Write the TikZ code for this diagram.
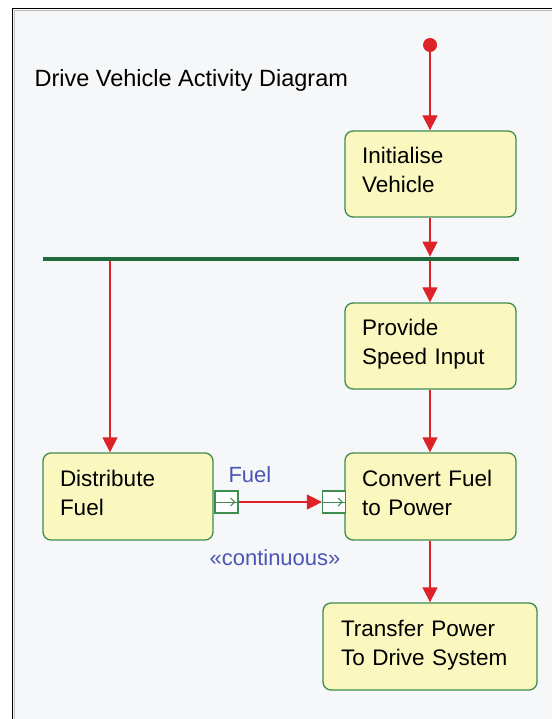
\documentclass[tikz,border=0pt]{standalone}
\usepackage{fontspec}
\setmainfont{Liberation Sans}
\usetikzlibrary{arrows.meta, positioning, shapes}

\definecolor{actfill}{HTML}{FAF8BE}
\definecolor{actline}{HTML}{3F8C50}
\definecolor{flowred}{HTML}{DE2328}
\definecolor{forkgreen}{HTML}{1F6B3C}
\definecolor{pinblue}{HTML}{4A55B5}
\definecolor{paper}{HTML}{F6F7F8}

\tikzset{
    action/.style={draw=actline, fill=actfill, line width=1.3pt, rounded corners=8pt,
        inner sep=0pt, align=left, text depth=37pt, font=\fontsize{22.5}{29}\selectfont},
    flow/.style={->, draw=flowred, line width=1.3pt},
    pinbox/.style={draw=actline, fill=white, line width=1.2pt, inner sep=0pt,
        minimum width=23pt, minimum height=22pt},
    pinlabel/.style={text=pinblue, font=\fontsize{22}{26}\selectfont}
}

\begin{document}
\begin{tikzpicture}[>={Triangle[length=15pt, width=15pt]}, x=1pt, y=-1pt]
    \useasboundingbox (0,0) rectangle (552,719);

    % Frame
    \fill[paper] (12.5,8.5) rectangle (552,719);
    \draw[black, line width=1.6pt] (12.5,719) -- (12.5,8.5) -- (552,8.5);
    \draw[black!25, line width=1pt] (14.5,719) -- (14.5,10.5) -- (552,10.5);

    \node[anchor=west, font=\fontsize{23.5}{28}\selectfont] (title) at (31,80) {Drive Vehicle Activity Diagram};

    % Nodes
    \node[circle, fill=flowred, minimum size=14pt, inner sep=0pt] (start) at (430,45) {};
    \node[action, minimum width=171pt, minimum height=86pt, text width=137pt] (init) at (430.5,174) {Initialise\\Vehicle};
    \node[fill=forkgreen, inner sep=0pt, minimum width=476pt, minimum height=4.5pt] (fork) at (281,259) {};
    \node[action, minimum width=171pt, minimum height=86pt, text width=137pt] (speed) at (430.5,346) {Provide\\Speed Input};
    \node[action, minimum width=170pt, minimum height=87pt, text width=136pt] (distribute) at (128,496.5) {Distribute\\Fuel};
    \node[action, minimum width=171pt, minimum height=87pt, text width=137pt] (convert) at (430.5,496.5) {Convert Fuel\\to Power};
    \node[action, minimum width=214pt, minimum height=87pt, text width=178pt] (transfer) at (430,646.5) {Transfer Power\\To Drive System};

    % Pins
    \node[pinbox] (fuelout) at (226.5,502) {};
    \node[pinbox] (fuelin) at (334,502) {};
    \foreach \p in {fuelout, fuelin} {
        \draw[actline, line width=1pt] (\p.west) -- (\p.east);
        \draw[actline, line width=1pt] ([xshift=-8pt, yshift=4pt]\p.east) -- ([xshift=-4pt]\p.east) -- ([xshift=-8pt, yshift=-4pt]\p.east);
    }
    \node[pinlabel, anchor=west] (fuel) at (225,475) {Fuel};
    \node[pinlabel] (stream) at (275,558) {«continuous»};

    % Flows
    \draw[flow] (start) -- (start |- init.north);
    \draw[flow] (init.south -| start) -- (fork.north -| start);
    \draw[flow] (fork.south -| start) -- (speed.north -| start);
    \draw[flow] ([xshift=-18pt]distribute.north |- fork.south) -- ([xshift=-18pt]distribute.north);
    \draw[flow] (speed.south -| start) -- (convert.north -| start);
    \draw[flow] (convert.south -| start) -- (transfer.north -| start);
    \draw[flow] (fuelout) -- (fuelin);
\end{tikzpicture}
\end{document}
